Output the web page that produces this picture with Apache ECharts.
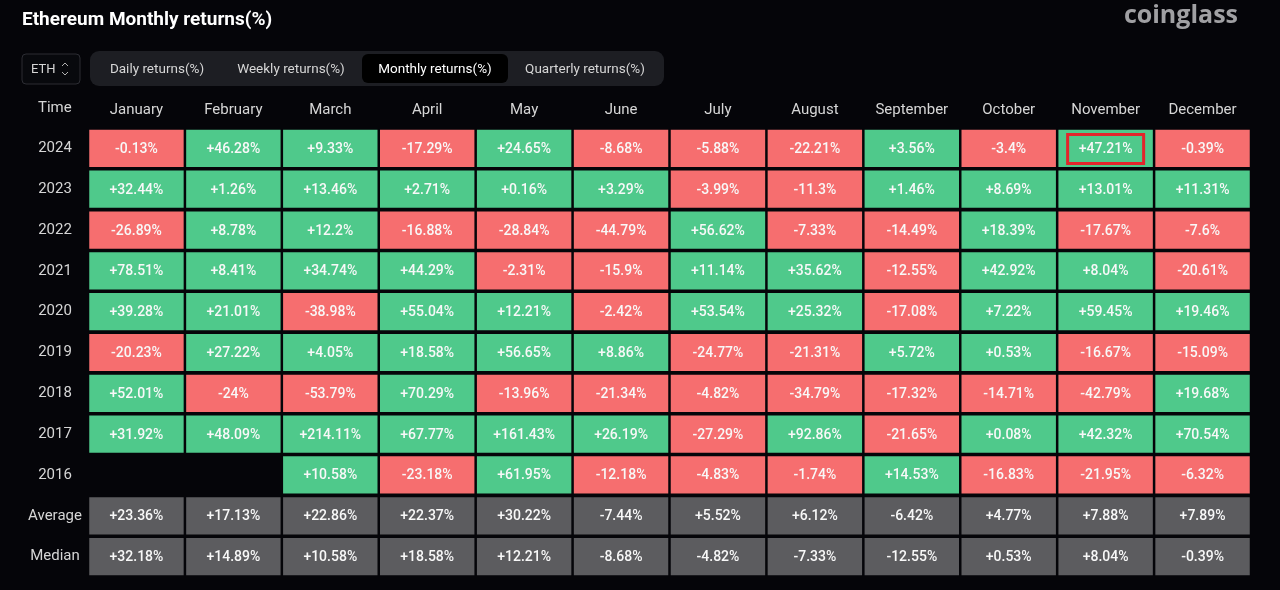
<!DOCTYPE html>
<html>
<head>
<meta charset="utf-8">
<title>Ethereum Monthly returns(%)</title>
<script src="https://cdn.jsdelivr.net/npm/echarts@6/dist/echarts.min.js"></script>
<style>
	html, body { margin: 0; padding: 0; background: #050509; }
	#chart { width: 1280px; height: 590px; }
</style>
</head>
<body>
<div id="chart"></div>
<script>
/*
 * 表格数据
 */
var months = ['January', 'February', 'March', 'April', 'May', 'June', 'July', 'August', 'September', 'October', 'November', 'December'];
var rowNames = ['2024', '2023', '2022', '2021', '2020', '2019', '2018', '2017', '2016', 'Average', 'Median'];

var r2024 = [-0.13, 46.28, 9.33, -17.29, 24.65, -8.68, -5.88, -22.21, 3.56, -3.4, 47.21, -0.39];
var r2023 = [32.44, 1.26, 13.46, 2.71, 0.16, 3.29, -3.99, -11.3, 1.46, 8.69, 13.01, 11.31];
var r2022 = [-26.89, 8.78, 12.2, -16.88, -28.84, -44.79, 56.62, -7.33, -14.49, 18.39, -17.67, -7.6];
var r2021 = [78.51, 8.41, 34.74, 44.29, -2.31, -15.9, 11.14, 35.62, -12.55, 42.92, 8.04, -20.61];
var r2020 = [39.28, 21.01, -38.98, 55.04, 12.21, -2.42, 53.54, 25.32, -17.08, 7.22, 59.45, 19.46];
var r2019 = [-20.23, 27.22, 4.05, 18.58, 56.65, 8.86, -24.77, -21.31, 5.72, 0.53, -16.67, -15.09];
var r2018 = [52.01, -24, -53.79, 70.29, -13.96, -21.34, -4.82, -34.79, -17.32, -14.71, -42.79, 19.68];
var r2017 = [31.92, 48.09, 214.11, 67.77, 161.43, 26.19, -27.29, 92.86, -21.65, 0.08, 42.32, 70.54];
var r2016 = [null, null, 10.58, -23.18, 61.95, -12.18, -4.83, -1.74, 14.53, -16.83, -21.95, -6.32];
var average = [23.36, 17.13, 22.86, 22.37, 30.22, -7.44, 5.52, 6.12, -6.42, 4.77, 7.88, 7.89];
var median = [32.18, 14.89, 10.58, 18.58, 12.21, -8.68, -4.82, -7.33, -12.55, 0.53, 8.04, -0.39];

var rows = [r2024, r2023, r2022, r2021, r2020, r2019, r2018, r2017, r2016, average, median];

// 红框标记的单元格 [月份, 行]
var marked = [10, 0];

var GREEN = '#4fc98b';
var RED = '#f66e6f';
var GREY = '#5c5c5f';

var cells = [];
for (var r = 0; r < rows.length; r++) {
	for (var c = 0; c < months.length; c++) {
		var v = rows[r][c];
		if (v === null) continue;
		cells.push([c, r, v, r >= 9 ? 1 : 0]);
	}
}

var fmt = function(v) {
	return (v >= 0 ? '+' : '') + v + '%';
};

var renderCell = function(params, api) {
	var c = api.value(0), r = api.value(1), v = api.value(2), summary = api.value(3);
	var pt = api.coord([c, r]);
	var size = api.size([1, 1]);
	var w = size[0] - 2.5, h = size[1] - 3.6;
	var color = summary ? GREY : (v >= 0 ? GREEN : RED);
	var children = [{
		type: 'rect',
		shape: { x: pt[0] - w / 2, y: pt[1] - h / 2, width: w, height: h },
		style: { fill: color }
	}, {
		type: 'text',
		style: {
			x: pt[0], y: pt[1] + 1,
			text: fmt(v),
			fill: '#f8f8f8',
			font: '500 14px Roboto',
			align: 'center',
			verticalAlign: 'middle'
		}
	}];
	if (c === marked[0] && r === marked[1]) {
		children.push({
			type: 'rect',
			shape: { x: pt[0] - 38, y: pt[1] - 14, width: 76, height: 29 },
			style: { fill: 'none', stroke: '#e3252b', lineWidth: 3 }
		});
	}
	return { type: 'group', children: children };
};

var chart = echarts.init(document.getElementById('chart'));
var option = {
	backgroundColor: '#050509',
	animation: false,
	grid: { left: 88, right: 29, top: 128, bottom: 13 },
	xAxis: {
		type: 'category',
		position: 'top',
		data: months,
		axisLine: { show: false },
		axisTick: { show: false },
		splitLine: { show: false },
		axisLabel: { color: '#d6d6d6', fontSize: 15, fontFamily: 'Roboto', margin: 10 }
	},
	yAxis: {
		type: 'category',
		inverse: true,
		data: rowNames,
		axisLine: { show: false },
		axisTick: { show: false },
		splitLine: { show: false },
		axisLabel: { color: '#d6d6d6', fontSize: 15, fontFamily: 'Roboto', align: 'center', margin: 33 }
	},
	graphic: [
		{ type: 'text', left: 22, top: 11, style: { text: 'Ethereum Monthly returns(%)', fill: '#ffffff', font: 'bold 19px Roboto' } },
		{ type: 'text', right: 42, top: 3, style: { text: 'coinglass', fill: '#a0a0a3', font: 'bold 25px "Open Sans"' } },
		{ type: 'text', left: 38, top: 101, style: { text: 'Time', fill: '#d6d6d6', font: '15px Roboto' } },
		{ type: 'rect', shape: { x: 22, y: 54, width: 58, height: 30, r: 4 }, style: { fill: '#08090d', stroke: '#2c2d33', lineWidth: 1 } },
		{ type: 'text', x: 31, y: 70, style: { text: 'ETH', fill: '#d6d6d6', font: '13px Roboto', verticalAlign: 'middle' } },
		{ type: 'polyline', shape: { points: [[62, 66], [65, 63], [68, 66]] }, style: { stroke: '#b0b0b0', lineWidth: 1, fill: 'none' } },
		{ type: 'polyline', shape: { points: [[62, 72], [65, 75], [68, 72]] }, style: { stroke: '#b0b0b0', lineWidth: 1, fill: 'none' } },
		{ type: 'rect', shape: { x: 90, y: 51, width: 574, height: 35, r: 9 }, style: { fill: '#1d1e23' } },
		{ type: 'rect', shape: { x: 362, y: 54, width: 146, height: 29, r: 6 }, style: { fill: '#000000' } },
		{ type: 'text', x: 157, y: 70, style: { text: 'Daily returns(%)', fill: '#d6d6d6', font: '13.5px Roboto', align: 'center', verticalAlign: 'middle' } },
		{ type: 'text', x: 291, y: 70, style: { text: 'Weekly returns(%)', fill: '#d6d6d6', font: '13.5px Roboto', align: 'center', verticalAlign: 'middle' } },
		{ type: 'text', x: 435, y: 70, style: { text: 'Monthly returns(%)', fill: '#ffffff', font: '13.5px Roboto', align: 'center', verticalAlign: 'middle' } },
		{ type: 'text', x: 585, y: 70, style: { text: 'Quarterly returns(%)', fill: '#d6d6d6', font: '13.5px Roboto', align: 'center', verticalAlign: 'middle' } }
	],
	series: [{
		type: 'custom',
		renderItem: renderCell,
		encode: { x: 0, y: 1 },
		data: cells
	}]
};
chart.setOption(option);
</script>
</body>
</html>
